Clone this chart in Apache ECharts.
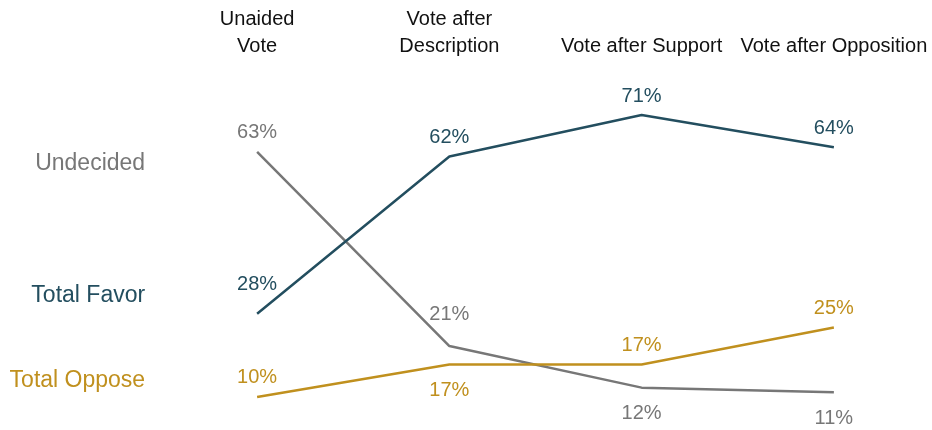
<!DOCTYPE html>
<html><head><meta charset="utf-8">
<script src="https://cdn.jsdelivr.net/npm/echarts@6/dist/echarts.min.js"></script>
<style>html,body{margin:0;padding:0;background:#fff}#c{width:932px;height:430px}</style>
</head><body><div id="c"></div>
<script>
const categories = ['Unaided\nVote', 'Vote after\nDescription', 'Vote after Support', 'Vote after Opposition'];
const seriesNames = ['Undecided', 'Total Favor', 'Total Oppose'];
const undecided = [63, 21, 12, 11];
const totalFavor = [28, 62, 71, 64];
const totalOppose = [10, 17, 17, 25];
// label placement per point: [position, distance, xShift]
const undecidedPos = [['top', 9, 0], ['top', 22, -4], ['bottom', 16, 0], ['bottom', 16, 0]];
const favorPos = [['top', 19, -12], ['top', 9, 0], ['top', 9, 0], ['top', 9, 0]];
const opposePos = [['top', 9, 0], ['bottom', 16, 0], ['top', 9, 0], ['top', 9, 0]];
const nameLabelValue = [60.5, 31.8, 13.5];
const colors = ['#777777', '#234e5f', '#c0901e'];
const FONT = 'Liberation Sans';

function mk(name, vals, pos, color, nameVal) {
  return {
    name: name, type: 'line', data: vals.map((v, i) => ({
      value: v,
      label: { position: pos[i][0], distance: pos[i][1], offset: [pos[i][2], 0] }
    })),
    symbol: 'circle', symbolSize: 0, showSymbol: true, silent: true,
    lineStyle: { color: color, width: 2.5 },
    itemStyle: { color: color },
    label: { show: true, formatter: '{c}%', color: color, fontSize: 20, fontFamily: FONT },
    labelLayout: { hideOverlap: false },
    markPoint: {
      symbol: 'circle', symbolSize: 0, silent: true,
      data: [{ coord: [0, nameVal] }],
      label: { show: true, formatter: name, position: 'left', distance: 112, color: color, fontSize: 23, fontFamily: FONT }
    }
  };
}

const chart = echarts.init(document.getElementById('c'));
chart.setOption({
  animation: false,
  grid: { left: 161, right: 2, top: 96.5, bottom: 10 },
  xAxis: {
    type: 'category', position: 'top', data: categories, boundaryGap: true,
    axisLine: { show: false }, axisTick: { show: false },
    axisLabel: { color: '#111', fontSize: 20, fontFamily: FONT, margin: 37, lineHeight: 27, interval: 0, verticalAlign: 'bottom' }
  },
  yAxis: { type: 'value', min: 5, max: 75, show: false, splitLine: { show: false } },
  series: [
    mk(seriesNames[0], undecided, undecidedPos, colors[0], nameLabelValue[0]),
    mk(seriesNames[1], totalFavor, favorPos, colors[1], nameLabelValue[1]),
    mk(seriesNames[2], totalOppose, opposePos, colors[2], nameLabelValue[2])
  ]
});
</script></body></html>
